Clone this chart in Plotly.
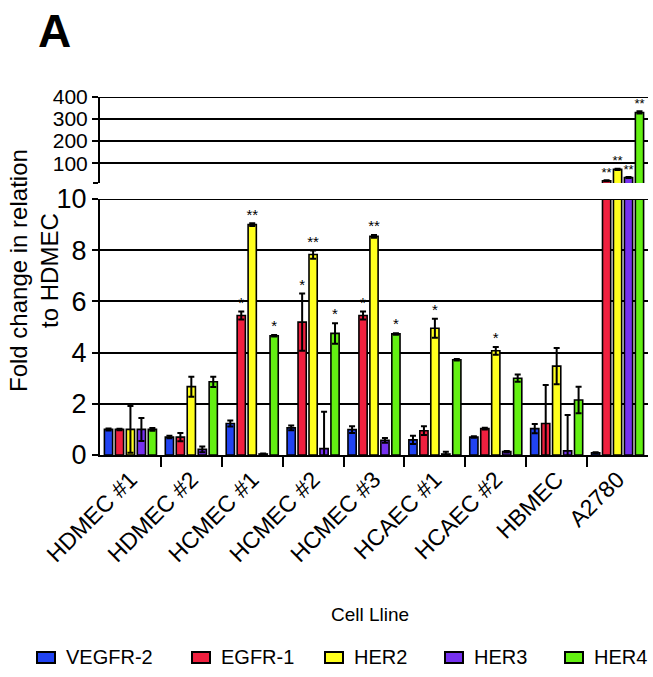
import plotly.graph_objects as go

# ---------------- data ----------------
cells = ["HDMEC #1", "HDMEC #2", "HCMEC #1", "HCMEC #2", "HCMEC #3",
         "HCAEC #1", "HCAEC #2", "HBMEC", "A2780"]
series_names = ["VEGFR-2", "EGFR-1", "HER2", "HER3", "HER4"]

vegfr2 = [1.0, 0.70, 1.23, 1.06, 0.99, 0.59, 0.70, 1.03, 0.09]
vegfr2_err = [0.04, 0.05, 0.12, 0.09, 0.13, 0.16, 0.03, 0.18, 0.02]
egfr1 = [1.0, 0.70, 5.45, 5.19, 5.45, 0.95, 1.03, 1.23, 20]
egfr1_err = [0.03, 0.16, 0.16, 1.12, 0.16, 0.17, 0.03, 1.5, 2]
her2 = [1.0, 2.67, 9.0, 7.83, 8.54, 4.95, 4.07, 3.47, 72]
her2_err = [0.91, 0.39, 0.05, 0.16, 0.05, 0.37, 0.15, 0.71, 3]
her3 = [1.0, 0.22, 0.04, 0.25, 0.57, 0.04, 0.13, 0.16, 35]
her3_err = [0.45, 0.11, 0.02, 1.44, 0.09, 0.09, 0.03, 1.4, 2]
her4 = [1.0, 2.86, 4.66, 4.75, 4.73, 3.72, 3.0, 2.15, 330]
her4_err = [0.05, 0.2, 0.03, 0.4, 0.03, 0.03, 0.14, 0.52, 5]

vegfr2_sig = ["", "", "", "", "", "", "", "", ""]
egfr1_sig = ["", "", "*", "*", "*", "", "", "", "**"]
her2_sig = ["", "", "**", "**", "**", "*", "*", "", "**"]
her3_sig = ["", "", "", "", "", "", "", "", "**"]
her4_sig = ["", "", "*", "*", "*", "", "", "", "**"]

lower_ticks = [0, 2, 4, 6, 8, 10]
upper_ticks = [100, 200, 300, 400]

colors = ["#2143f2", "#f0203f", "#ffff1e", "#7631ef", "#63f012"]

values = [vegfr2, egfr1, her2, her3, her4]
errors = [vegfr2_err, egfr1_err, her2_err, her3_err, her4_err]
sigs = [vegfr2_sig, egfr1_sig, her2_sig, her3_sig, her4_sig]

# ---------------- geometry ----------------
W, H = 653, 677
L, R, T = 100, 5, 97
B = H - 455
PW, PH = W - L - R, H - T - B
LOW_MAX = 10
UP_MAX = 400


def px(x):
    """page x pixel -> paper x"""
    return (x - L) / PW


def py(y):
    """page y pixel -> paper y"""
    return (H - B - y) / PH


NARROW = "Liberation Sans Narrow, Liberation Sans, Arial"
SANS = "Liberation Sans, Arial"

fig = go.Figure()
step, bw = 0.18, 0.135
for j, (name, vals, errs, sig, col) in enumerate(zip(series_names, values, errors, sigs, colors)):
    xs = [i + (j - 2) * step for i in range(len(cells))]
    marker = dict(color=col, line=dict(color="black", width=1.6))
    # lower panel
    fig.add_trace(go.Bar(
        x=xs, y=vals, width=bw, name=name, yaxis="y", xaxis="x", marker=marker,
        error_y=dict(type="data", array=errs, color="black", thickness=2, width=3),
        showlegend=False))
    # upper panel: only values above the break
    uy = [v if v >= LOW_MAX else None for v in vals]
    ue = [e if v >= LOW_MAX else 0 for v, e in zip(vals, errs)]
    if any(v is not None for v in uy):
        fig.add_trace(go.Bar(
            x=xs, y=uy, width=bw, name=name, yaxis="y2", xaxis="x", marker=marker,
            error_y=dict(type="data", array=ue, color="black", thickness=2, width=3),
            showlegend=False))
    # significance stars
    for yax, upper in [("y", False), ("y2", True)]:
        sx, sy, st = [], [], []
        for x, v, e, s in zip(xs, vals, errs, sig):
            if s and ((v >= LOW_MAX) == upper):
                sx.append(x)
                sy.append(v + e)
                st.append(s)
        if sx:
            fig.add_trace(go.Scatter(
                x=sx, y=sy, text=st, mode="text", textposition="top center",
                textfont=dict(family=SANS, size=15 if not upper else 13, color="black"),
                yaxis=yax, xaxis="x", showlegend=False, hoverinfo="skip"))

axis_common = dict(showline=True, linecolor="black", linewidth=2, ticks="outside",
                   tickcolor="black", tickwidth=2, ticklen=6, zeroline=False)

fig.update_layout(
    width=W, height=H,
    margin=dict(l=L, r=R, t=T, b=B, pad=0),
    paper_bgcolor="white", plot_bgcolor="white",
    barmode="overlay",
    showlegend=False,
    xaxis=dict(
        range=[-0.5, len(cells) - 0.5], tickvals=list(range(len(cells))), ticktext=cells,
        ticks="", tickangle=-45, tickfont=dict(family=SANS, size=23, color="black"),
        showline=True, linecolor="black", linewidth=2, showgrid=False, zeroline=False,
        anchor="y", automargin=False,
        minor=dict(tickvals=[i + 0.5 for i in range(len(cells) - 1)], ticks="outside",
                   ticklen=10, tickwidth=2, tickcolor="black", showgrid=False),
    ),
    yaxis=dict(
        domain=[0, py(199)], range=[0, LOW_MAX], tickvals=lower_ticks,
        tickfont=dict(family=NARROW, size=27, color="black"), automargin=False,
        showgrid=True, gridcolor="black", gridwidth=2, anchor="x", **axis_common),
    yaxis2=dict(
        domain=[py(183), 1], range=[LOW_MAX, UP_MAX], tickvals=upper_ticks,
        tickfont=dict(family=NARROW, size=21, color="black"), automargin=False,
        showgrid=True, gridcolor="black", gridwidth=2, anchor="x",
        minor=dict(tickvals=[LOW_MAX], ticks="outside", ticklen=5, tickwidth=2,
                   tickcolor="black", showgrid=False),
        **axis_common),
)

shapes = []
# top border lines of each panel (gridline at the range maximum)
shapes.append(dict(type="line", xref="paper", yref="y2", x0=0, x1=1, y0=UP_MAX, y1=UP_MAX,
                   line=dict(color="black", width=2)))
shapes.append(dict(type="line", xref="paper", yref="y", x0=0, x1=1, y0=LOW_MAX, y1=LOW_MAX,
                   line=dict(color="black", width=2)))

ann = []
ann.append(dict(text="<b>A</b>", x=px(54), y=py(31), xref="paper", yref="paper",
                showarrow=False, font=dict(family=SANS, size=46, color="black"),
                xanchor="center", yanchor="middle"))
ann.append(dict(text="Fold change in relation<br>to HDMEC", textangle=-90,
                x=px(34), y=py(271), xref="paper", yref="paper", showarrow=False,
                font=dict(family=SANS, size=24, color="black"),
                xanchor="center", yanchor="middle"))
ann.append(dict(text="Cell Lline", x=px(370), y=py(614), xref="paper", yref="paper",
                showarrow=False, font=dict(family=NARROW, size=19, color="black"),
                xanchor="center", yanchor="middle"))

leg_x = [37, 192, 325, 445, 565]
for name, col, lx in zip(series_names, colors, leg_x):
    shapes.append(dict(type="rect", xref="paper", yref="paper",
                       x0=px(lx), x1=px(lx + 18), y0=py(663), y1=py(652),
                       fillcolor=col, line=dict(color="black", width=2)))
    ann.append(dict(text=name, x=px(lx + 27), y=py(657), xref="paper", yref="paper",
                    showarrow=False, font=dict(family=NARROW, size=20, color="black"),
                    xanchor="left", yanchor="middle"))

fig.update_layout(annotations=ann, shapes=shapes)
fig.write_html("out.html",
               config={"displayModeBar": False},
               post_script="document.body.style.margin='0px';"
                           "document.body.style.overflow='hidden';")
